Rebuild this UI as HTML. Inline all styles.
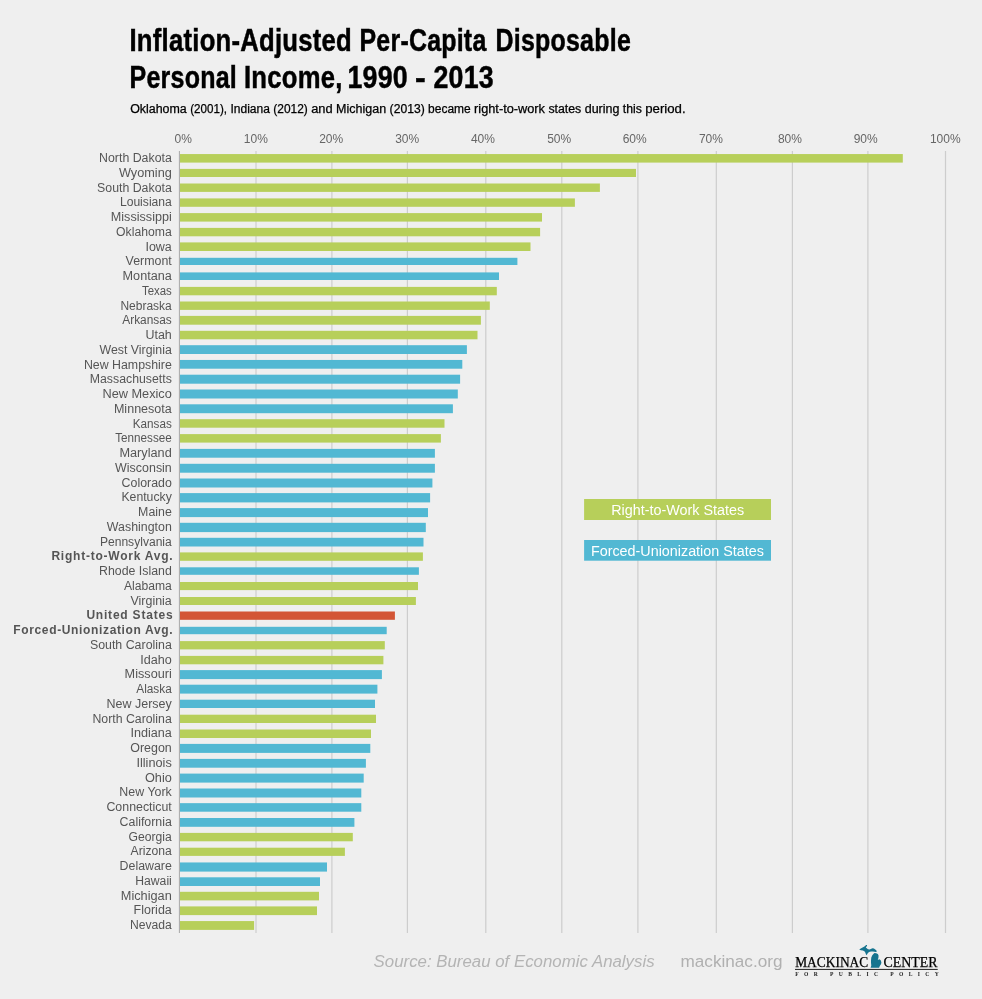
<!DOCTYPE html>
<html><head><meta charset="utf-8"><title>Inflation-Adjusted Per-Capita Disposable Personal Income, 1990 - 2013</title>
<style>
html,body{margin:0;padding:0;background:#efefef;}
body{width:982px;height:999px;overflow:hidden;}
svg{display:block;will-change:transform;}
text{font-family:"Liberation Sans",Arial,sans-serif;}
.t1{font-weight:bold;font-size:31.5px;fill:#000;stroke:#000;stroke-width:0.5px;letter-spacing:0.3px;}
.st{font-size:12px;fill:#000;stroke:#000;stroke-width:0.25px;}
.ax{font-size:12px;fill:#666;}
.lb{font-size:12px;fill:#555;}
.lb.b{font-weight:bold;}
.lg{font-size:14px;fill:#fff;}
.src{font-size:16.8px;font-style:italic;fill:#b4b4b4;}
.web{font-size:16.8px;fill:#b0b0b0;}
.mk{font-family:"Liberation Serif",serif;font-size:14.2px;fill:#000;stroke:#000;stroke-width:0.25px;}
.fp{font-family:"Liberation Serif",serif;font-size:5.6px;font-weight:bold;fill:#222;}
</style></head>
<body>
<svg width="982" height="999" viewBox="0 0 982 999">
<rect width="982" height="999" fill="#efefef"/>
<rect x="255.40" y="151" width="1.2" height="782" fill="#cdcdcd"/>
<rect x="331.30" y="151" width="1.2" height="782" fill="#cdcdcd"/>
<rect x="406.80" y="151" width="1.2" height="782" fill="#cdcdcd"/>
<rect x="485.20" y="151" width="1.2" height="782" fill="#cdcdcd"/>
<rect x="561.20" y="151" width="1.2" height="782" fill="#cdcdcd"/>
<rect x="637.30" y="151" width="1.2" height="782" fill="#cdcdcd"/>
<rect x="715.70" y="151" width="1.2" height="782" fill="#cdcdcd"/>
<rect x="791.80" y="151" width="1.2" height="782" fill="#cdcdcd"/>
<rect x="867.30" y="151" width="1.2" height="782" fill="#cdcdcd"/>
<rect x="944.90" y="151" width="1.2" height="782" fill="#cdcdcd"/>
<rect x="178.90" y="151" width="1" height="782" fill="#a8a8a8"/>
<text class="ax" x="183.2" y="143" text-anchor="middle">0%</text>
<text class="ax" x="255.8" y="143" text-anchor="middle">10%</text>
<text class="ax" x="331.2" y="143" text-anchor="middle">20%</text>
<text class="ax" x="407.2" y="143" text-anchor="middle">30%</text>
<text class="ax" x="482.9" y="143" text-anchor="middle">40%</text>
<text class="ax" x="559.2" y="143" text-anchor="middle">50%</text>
<text class="ax" x="634.7" y="143" text-anchor="middle">60%</text>
<text class="ax" x="710.9" y="143" text-anchor="middle">70%</text>
<text class="ax" x="789.9" y="143" text-anchor="middle">80%</text>
<text class="ax" x="865.7" y="143" text-anchor="middle">90%</text>
<text class="ax" x="945.3" y="143" text-anchor="middle">100%</text>
<rect x="180.0" y="154.05" width="722.8" height="8.55" fill="#b7cf5a"/>
<text class="lb" x="171.8" y="162.20" text-anchor="end" textLength="72.70" lengthAdjust="spacingAndGlyphs">North Dakota</text>
<rect x="180.0" y="168.90" width="456.0" height="8.10" fill="#b7cf5a"/>
<text class="lb" x="171.8" y="176.95" text-anchor="end" textLength="52.90" lengthAdjust="spacingAndGlyphs">Wyoming</text>
<rect x="180.0" y="183.50" width="419.9" height="8.40" fill="#b7cf5a"/>
<text class="lb" x="171.8" y="191.70" text-anchor="end" textLength="74.71" lengthAdjust="spacingAndGlyphs">South Dakota</text>
<rect x="180.0" y="198.40" width="394.9" height="8.40" fill="#b7cf5a"/>
<text class="lb" x="171.8" y="206.45" text-anchor="end" textLength="51.88" lengthAdjust="spacingAndGlyphs">Louisiana</text>
<rect x="180.0" y="213.10" width="362.0" height="8.50" fill="#b7cf5a"/>
<text class="lb" x="171.8" y="221.20" text-anchor="end" textLength="61.01" lengthAdjust="spacingAndGlyphs">Mississippi</text>
<rect x="180.0" y="227.90" width="360.1" height="8.40" fill="#b7cf5a"/>
<text class="lb" x="171.8" y="235.95" text-anchor="end" textLength="55.69" lengthAdjust="spacingAndGlyphs">Oklahoma</text>
<rect x="180.0" y="242.40" width="350.5" height="8.60" fill="#b7cf5a"/>
<text class="lb" x="171.8" y="250.70" text-anchor="end" textLength="26.35" lengthAdjust="spacingAndGlyphs">Iowa</text>
<rect x="180.0" y="257.80" width="337.4" height="7.20" fill="#52b8d3"/>
<text class="lb" x="171.8" y="265.45" text-anchor="end" textLength="46.19" lengthAdjust="spacingAndGlyphs">Vermont</text>
<rect x="180.0" y="272.40" width="319.0" height="7.60" fill="#52b8d3"/>
<text class="lb" x="171.8" y="280.20" text-anchor="end" textLength="49.20" lengthAdjust="spacingAndGlyphs">Montana</text>
<rect x="180.0" y="286.90" width="316.8" height="8.40" fill="#b7cf5a"/>
<text class="lb" x="171.8" y="294.95" text-anchor="end" textLength="29.85" lengthAdjust="spacingAndGlyphs">Texas</text>
<rect x="180.0" y="301.50" width="309.8" height="8.40" fill="#b7cf5a"/>
<text class="lb" x="171.8" y="309.70" text-anchor="end" textLength="51.36" lengthAdjust="spacingAndGlyphs">Nebraska</text>
<rect x="180.0" y="315.90" width="300.9" height="8.80" fill="#b7cf5a"/>
<text class="lb" x="171.8" y="324.45" text-anchor="end" textLength="49.52" lengthAdjust="spacingAndGlyphs">Arkansas</text>
<rect x="180.0" y="330.80" width="297.5" height="8.50" fill="#b7cf5a"/>
<text class="lb" x="171.8" y="339.20" text-anchor="end" textLength="26.35" lengthAdjust="spacingAndGlyphs">Utah</text>
<rect x="180.0" y="345.20" width="286.9" height="8.80" fill="#52b8d3"/>
<text class="lb" x="171.8" y="353.95" text-anchor="end" textLength="72.25" lengthAdjust="spacingAndGlyphs">West Virginia</text>
<rect x="180.0" y="359.95" width="282.3" height="8.75" fill="#52b8d3"/>
<text class="lb" x="171.8" y="368.70" text-anchor="end" textLength="87.86" lengthAdjust="spacingAndGlyphs">New Hampshire</text>
<rect x="180.0" y="374.70" width="280.1" height="9.00" fill="#52b8d3"/>
<text class="lb" x="171.8" y="383.45" text-anchor="end" textLength="82.03" lengthAdjust="spacingAndGlyphs">Massachusetts</text>
<rect x="180.0" y="389.50" width="277.8" height="9.00" fill="#52b8d3"/>
<text class="lb" x="171.8" y="398.20" text-anchor="end" textLength="69.35" lengthAdjust="spacingAndGlyphs">New Mexico</text>
<rect x="180.0" y="404.30" width="272.9" height="8.90" fill="#52b8d3"/>
<text class="lb" x="171.8" y="412.95" text-anchor="end" textLength="57.87" lengthAdjust="spacingAndGlyphs">Minnesota</text>
<rect x="180.0" y="419.20" width="264.5" height="8.50" fill="#b7cf5a"/>
<text class="lb" x="171.8" y="427.70" text-anchor="end" textLength="39.03" lengthAdjust="spacingAndGlyphs">Kansas</text>
<rect x="180.0" y="434.10" width="260.9" height="8.50" fill="#b7cf5a"/>
<text class="lb" x="171.8" y="442.45" text-anchor="end" textLength="56.54" lengthAdjust="spacingAndGlyphs">Tennessee</text>
<rect x="180.0" y="448.90" width="254.9" height="8.80" fill="#52b8d3"/>
<text class="lb" x="171.8" y="457.20" text-anchor="end" textLength="52.35" lengthAdjust="spacingAndGlyphs">Maryland</text>
<rect x="180.0" y="463.80" width="254.9" height="8.90" fill="#52b8d3"/>
<text class="lb" x="171.8" y="471.95" text-anchor="end" textLength="56.68" lengthAdjust="spacingAndGlyphs">Wisconsin</text>
<rect x="180.0" y="478.50" width="252.4" height="9.00" fill="#52b8d3"/>
<text class="lb" x="171.8" y="486.70" text-anchor="end" textLength="50.20" lengthAdjust="spacingAndGlyphs">Colorado</text>
<rect x="180.0" y="493.10" width="250.1" height="9.30" fill="#52b8d3"/>
<text class="lb" x="171.8" y="501.45" text-anchor="end" textLength="50.36" lengthAdjust="spacingAndGlyphs">Kentucky</text>
<rect x="180.0" y="508.10" width="248.0" height="9.00" fill="#52b8d3"/>
<text class="lb" x="171.8" y="516.20" text-anchor="end" textLength="33.68" lengthAdjust="spacingAndGlyphs">Maine</text>
<rect x="180.0" y="522.80" width="245.8" height="9.30" fill="#52b8d3"/>
<text class="lb" x="171.8" y="530.95" text-anchor="end" textLength="64.92" lengthAdjust="spacingAndGlyphs">Washington</text>
<rect x="180.0" y="537.80" width="243.5" height="8.70" fill="#52b8d3"/>
<text class="lb" x="171.8" y="545.70" text-anchor="end" textLength="71.88" lengthAdjust="spacingAndGlyphs">Pennsylvania</text>
<rect x="180.0" y="552.40" width="242.9" height="8.40" fill="#b7cf5a"/>
<text class="lb b" x="172.60000000000002" y="560.45" text-anchor="end" textLength="121.15" lengthAdjust="spacing">Right-to-Work Avg.</text>
<rect x="180.0" y="567.30" width="238.9" height="7.50" fill="#52b8d3"/>
<text class="lb" x="171.8" y="575.20" text-anchor="end" textLength="72.72" lengthAdjust="spacingAndGlyphs">Rhode Island</text>
<rect x="180.0" y="582.00" width="238.0" height="8.10" fill="#b7cf5a"/>
<text class="lb" x="171.8" y="589.95" text-anchor="end" textLength="47.86" lengthAdjust="spacingAndGlyphs">Alabama</text>
<rect x="180.0" y="597.00" width="235.9" height="8.00" fill="#b7cf5a"/>
<text class="lb" x="171.8" y="604.70" text-anchor="end" textLength="41.30" lengthAdjust="spacingAndGlyphs">Virginia</text>
<rect x="180.0" y="611.50" width="214.9" height="8.30" fill="#d35535"/>
<text class="lb b" x="172.60000000000002" y="619.45" text-anchor="end" textLength="86.18" lengthAdjust="spacing">United States</text>
<rect x="180.0" y="626.80" width="206.7" height="7.40" fill="#52b8d3"/>
<text class="lb b" x="172.60000000000002" y="634.20" text-anchor="end" textLength="159.38" lengthAdjust="spacing">Forced-Unionization Avg.</text>
<rect x="180.0" y="641.10" width="204.8" height="8.30" fill="#b7cf5a"/>
<text class="lb" x="171.8" y="648.95" text-anchor="end" textLength="81.88" lengthAdjust="spacingAndGlyphs">South Carolina</text>
<rect x="180.0" y="655.90" width="203.4" height="8.40" fill="#b7cf5a"/>
<text class="lb" x="171.8" y="663.70" text-anchor="end" textLength="31.53" lengthAdjust="spacingAndGlyphs">Idaho</text>
<rect x="180.0" y="670.10" width="201.9" height="9.00" fill="#52b8d3"/>
<text class="lb" x="171.8" y="678.45" text-anchor="end" textLength="47.17" lengthAdjust="spacingAndGlyphs">Missouri</text>
<rect x="180.0" y="684.70" width="197.4" height="8.90" fill="#52b8d3"/>
<text class="lb" x="171.8" y="693.20" text-anchor="end" textLength="35.52" lengthAdjust="spacingAndGlyphs">Alaska</text>
<rect x="180.0" y="699.70" width="195.0" height="8.30" fill="#52b8d3"/>
<text class="lb" x="171.8" y="707.95" text-anchor="end" textLength="65.18" lengthAdjust="spacingAndGlyphs">New Jersey</text>
<rect x="180.0" y="714.70" width="196.0" height="8.30" fill="#b7cf5a"/>
<text class="lb" x="171.8" y="722.70" text-anchor="end" textLength="79.37" lengthAdjust="spacingAndGlyphs">North Carolina</text>
<rect x="180.0" y="729.50" width="191.0" height="8.50" fill="#b7cf5a"/>
<text class="lb" x="171.8" y="737.45" text-anchor="end" textLength="41.37" lengthAdjust="spacingAndGlyphs">Indiana</text>
<rect x="180.0" y="743.90" width="190.3" height="9.00" fill="#52b8d3"/>
<text class="lb" x="171.8" y="752.20" text-anchor="end" textLength="41.53" lengthAdjust="spacingAndGlyphs">Oregon</text>
<rect x="180.0" y="758.90" width="185.9" height="8.80" fill="#52b8d3"/>
<text class="lb" x="171.8" y="766.95" text-anchor="end" textLength="35.35" lengthAdjust="spacingAndGlyphs">Illinois</text>
<rect x="180.0" y="773.60" width="183.7" height="9.00" fill="#52b8d3"/>
<text class="lb" x="171.8" y="781.70" text-anchor="end" textLength="26.85" lengthAdjust="spacingAndGlyphs">Ohio</text>
<rect x="180.0" y="788.50" width="181.3" height="9.00" fill="#52b8d3"/>
<text class="lb" x="171.8" y="796.45" text-anchor="end" textLength="52.41" lengthAdjust="spacingAndGlyphs">New York</text>
<rect x="180.0" y="803.15" width="181.3" height="8.55" fill="#52b8d3"/>
<text class="lb" x="171.8" y="811.20" text-anchor="end" textLength="65.37" lengthAdjust="spacingAndGlyphs">Connecticut</text>
<rect x="180.0" y="818.00" width="174.4" height="8.80" fill="#52b8d3"/>
<text class="lb" x="171.8" y="825.95" text-anchor="end" textLength="52.19" lengthAdjust="spacingAndGlyphs">California</text>
<rect x="180.0" y="832.90" width="172.8" height="8.40" fill="#b7cf5a"/>
<text class="lb" x="171.8" y="840.70" text-anchor="end" textLength="43.19" lengthAdjust="spacingAndGlyphs">Georgia</text>
<rect x="180.0" y="847.70" width="164.9" height="8.20" fill="#b7cf5a"/>
<text class="lb" x="171.8" y="855.45" text-anchor="end" textLength="41.19" lengthAdjust="spacingAndGlyphs">Arizona</text>
<rect x="180.0" y="862.45" width="147.0" height="9.15" fill="#52b8d3"/>
<text class="lb" x="171.8" y="870.20" text-anchor="end" textLength="52.19" lengthAdjust="spacingAndGlyphs">Delaware</text>
<rect x="180.0" y="877.30" width="140.0" height="8.70" fill="#52b8d3"/>
<text class="lb" x="171.8" y="884.95" text-anchor="end" textLength="36.51" lengthAdjust="spacingAndGlyphs">Hawaii</text>
<rect x="180.0" y="891.80" width="139.0" height="8.60" fill="#b7cf5a"/>
<text class="lb" x="171.8" y="899.70" text-anchor="end" textLength="51.02" lengthAdjust="spacingAndGlyphs">Michigan</text>
<rect x="180.0" y="906.40" width="137.0" height="8.70" fill="#b7cf5a"/>
<text class="lb" x="171.8" y="914.45" text-anchor="end" textLength="38.18" lengthAdjust="spacingAndGlyphs">Florida</text>
<rect x="180.0" y="921.06" width="74.1" height="8.84" fill="#b7cf5a"/>
<text class="lb" x="171.8" y="929.20" text-anchor="end" textLength="41.86" lengthAdjust="spacingAndGlyphs">Nevada</text>
<rect x="584.1" y="499" width="186.9" height="21" fill="#b7cf5a"/>
<rect x="584.1" y="540" width="186.9" height="20.7" fill="#52b8d3"/>
<text class="lg" x="677.7" y="514.9" text-anchor="middle" textLength="133" lengthAdjust="spacingAndGlyphs">Right-to-Work States</text>
<text class="lg" x="677.4" y="555.6" text-anchor="middle" textLength="173" lengthAdjust="spacingAndGlyphs">Forced-Unionization States</text>
<text class="t1" y="51.4"><tspan x="129.50" textLength="222.50" lengthAdjust="spacingAndGlyphs">Inflation-Adjusted</tspan> <tspan x="359.50" textLength="127.00" lengthAdjust="spacingAndGlyphs">Per-Capita</tspan> <tspan x="495.50" textLength="135.50" lengthAdjust="spacingAndGlyphs">Disposable</tspan></text>
<text class="t1" y="88.2"><tspan x="129.50" textLength="107.50" lengthAdjust="spacingAndGlyphs">Personal</tspan> <tspan x="244.00" textLength="98.50" lengthAdjust="spacingAndGlyphs">Income,</tspan> <tspan x="347.50" textLength="60.50" lengthAdjust="spacingAndGlyphs">1990</tspan> <tspan x="415.00" textLength="11.00" lengthAdjust="spacingAndGlyphs">-</tspan> <tspan x="433.50" textLength="60.50" lengthAdjust="spacingAndGlyphs">2013</tspan></text>
<text class="st" y="112.6"><tspan x="130.2" textLength="56.6" lengthAdjust="spacingAndGlyphs">Oklahoma</tspan> <tspan x="190.2" textLength="36.8" lengthAdjust="spacingAndGlyphs">(2001),</tspan> <tspan x="230.4" textLength="39.5" lengthAdjust="spacingAndGlyphs">Indiana</tspan> <tspan x="273.3" textLength="34.5" lengthAdjust="spacingAndGlyphs">(2012)</tspan> <tspan x="311.2" textLength="21.5" lengthAdjust="spacingAndGlyphs">and</tspan> <tspan x="336.1" textLength="50.1" lengthAdjust="spacingAndGlyphs">Michigan</tspan> <tspan x="389.6" textLength="35.1" lengthAdjust="spacingAndGlyphs">(2013)</tspan> <tspan x="428.1" textLength="42.6" lengthAdjust="spacingAndGlyphs">became</tspan> <tspan x="474.1" textLength="70.9" lengthAdjust="spacingAndGlyphs">right-to-work</tspan> <tspan x="548.4" textLength="32.9" lengthAdjust="spacingAndGlyphs">states</tspan> <tspan x="584.7" textLength="34.7" lengthAdjust="spacingAndGlyphs">during</tspan> <tspan x="622.8" textLength="19.0" lengthAdjust="spacingAndGlyphs">this</tspan> <tspan x="645.2" textLength="40.4" lengthAdjust="spacingAndGlyphs">period.</tspan></text>
<text class="src" x="373.6" y="966.8" textLength="281" lengthAdjust="spacingAndGlyphs">Source: Bureau of Economic Analysis</text>
<text class="web" x="680.5" y="966.8" textLength="102" lengthAdjust="spacingAndGlyphs">mackinac.org</text>
<text class="mk" x="795.2" y="967" textLength="73" lengthAdjust="spacingAndGlyphs">MACKINAC</text>
<text class="mk" x="883.5" y="967" textLength="54" lengthAdjust="spacingAndGlyphs">CENTER</text>
<rect x="795" y="968.9" width="142.7" height="1.1" fill="#333"/>
<text class="fp" x="795.3" y="975.7" textLength="143.5" lengthAdjust="spacing">FOR PUBLIC POLICY</text>
<path d="M866.9 944.9 L867.1 945.8 L865.8 947.6 L868.0 949.2 L869.7 949.5 L871.3 948.8 L872.6 948.3 L873.9 948.5 L874.9 949.2 L875.9 950.1 L877.0 951.2 L875.9 951.9 L874.5 951.8 L872.8 951.5 L871.3 951.5 L869.7 951.8 L868.4 952.6 L867.4 953.8 L866.6 955.2 L865.8 954.0 L865.3 952.4 L864.4 951.3 L862.8 950.6 L860.9 950.3 L859.5 949.8 L859.6 949.3 L861.2 948.2 L863.1 947.2 L864.8 946.2 L866.1 945.1 Z" fill="#16748f"/>
<path d="M874.5 953.0 L876.2 953.2 L877.8 954.0 L878.5 955.3 L878.5 957.3 L878.1 958.9 L877.8 959.9 L879.4 959.2 L880.7 960.2 L881.4 962.2 L881.1 964.1 L879.8 966.1 L879.1 967.7 L870.6 967.7 L871.3 965.4 L871.0 962.8 L871.0 960.2 L871.3 957.6 L872.3 955.3 L873.6 953.7 Z" fill="#16748f"/>
</svg>
</body></html>
